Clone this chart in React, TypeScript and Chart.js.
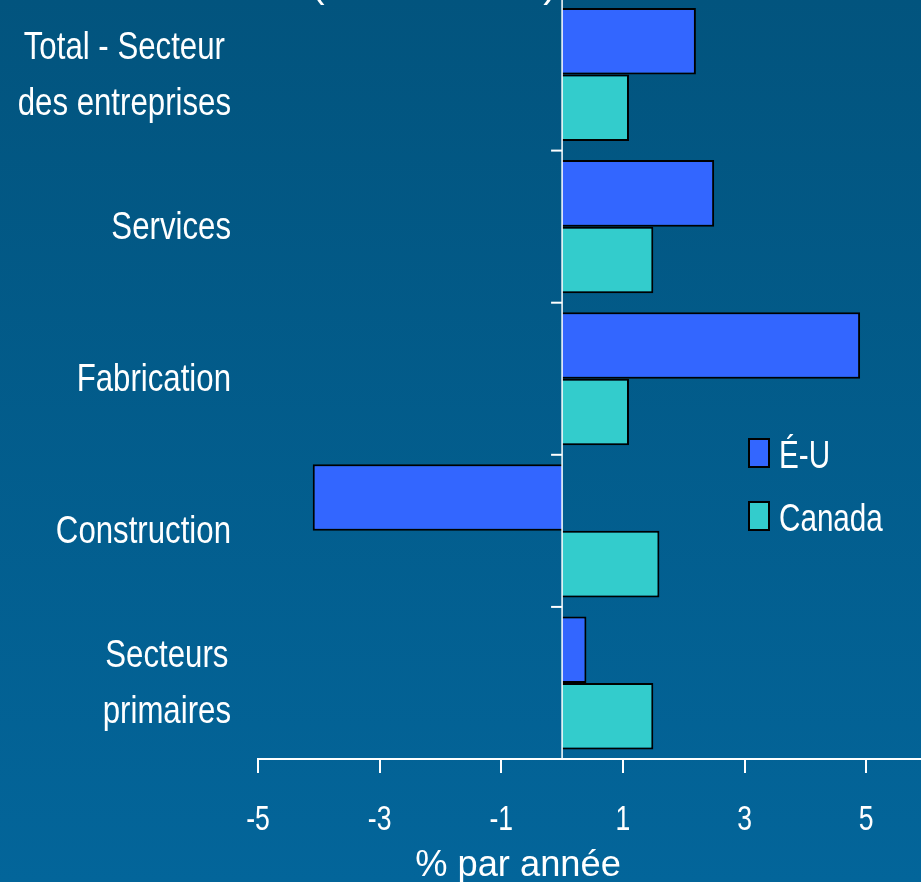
import React, { useEffect, useRef } from "react";
import { Chart, registerables } from "chart.js";

Chart.register(...registerables);

// ---- Data ----
const categories: (string | string[])[] = [
  ["Total - Secteur", "des entreprises"],
  "Services",
  "Fabrication",
  "Construction",
  ["Secteurs", "primaires"],
];
const seriesNames = ["É-U", "Canada"];
const usValues = [2.2, 2.5, 4.9, -4.1, 0.4];
const canadaValues = [1.1, 1.5, 1.1, 1.6, 1.5];
const xTickValues = [-5, -3, -1, 1, 3, 5];
const xMin = -5;
const xMax = 6;
const xAxisTitle = "% par année";
const titleFragments = ["(", ")"];

const US_COLOR = "#3366ff";
const CA_COLOR = "#33cccc";
const FONT = "'Liberation Sans', Arial, sans-serif";

const CANVAS_W = 927;
const CANVAS_H = 886;
const CANVAS_TOP = -4;

function drawScaled(
  ctx: CanvasRenderingContext2D,
  text: string,
  x: number,
  y: number,
  size: number,
  sx: number,
  align: CanvasTextAlign
) {
  ctx.save();
  ctx.translate(x, y);
  ctx.scale(sx, 1);
  ctx.font = `${size}px ${FONT}`;
  ctx.textAlign = align;
  ctx.textBaseline = "alphabetic";
  ctx.fillText(text, 0, 0);
  ctx.restore();
}

function measureScaled(ctx: CanvasRenderingContext2D, text: string, size: number, sx: number) {
  ctx.save();
  ctx.font = `${size}px ${FONT}`;
  const w = ctx.measureText(text).width * sx;
  ctx.restore();
  return w;
}

const overlayPlugin = {
  id: "overlay",
  afterDatasetsDraw(chart: any) {
    const ctx = chart.ctx as CanvasRenderingContext2D;
    const xs = chart.scales.x;
    const ys = chart.scales.y;
    const area = chart.chartArea;
    const x0 = xs.getPixelForValue(0);
    ctx.save();
    // zero line
    ctx.strokeStyle = "#ffffff";
    ctx.lineWidth = 1.5;
    ctx.beginPath();
    ctx.moveTo(x0, area.top);
    ctx.lineTo(x0, area.bottom);
    ctx.stroke();
    // category boundary ticks
    ctx.lineWidth = 2;
    for (let i = 1; i < categories.length; i++) {
      const y = (ys.getPixelForValue(i - 1) + ys.getPixelForValue(i)) / 2;
      ctx.beginPath();
      ctx.moveTo(x0 - 11, y);
      ctx.lineTo(x0, y);
      ctx.stroke();
    }
    ctx.fillStyle = "#ffffff";

    // category labels (narrow look)
    const LSIZE = 39;
    const LSX = 0.8;
    const rightEdge = 231;
    categories.forEach((cat, i) => {
      const cy = ys.getPixelForValue(i);
      const lines = Array.isArray(cat) ? cat : [cat];
      if (lines.length === 1) {
        drawScaled(ctx, lines[0], rightEdge, cy + 12.5, LSIZE, LSX, "right");
      } else {
        const widths = lines.map((l) => measureScaled(ctx, l, LSIZE, LSX));
        const bw = Math.max(...widths);
        const cx = rightEdge - bw / 2;
        const spacing = 56;
        lines.forEach((l, k) => {
          const off = (k - (lines.length - 1) / 2) * spacing;
          drawScaled(ctx, l, cx, cy + off + 12.5, LSIZE, LSX, "center");
        });
      }
    });

    // x tick labels
    xTickValues.forEach((v) => {
      drawScaled(ctx, String(v), xs.getPixelForValue(v), area.bottom + 71, 35, 0.76, "center");
    });

    // x axis title
    drawScaled(ctx, xAxisTitle, 518, area.bottom + 117, 37, 0.98, "center");

    // legend
    const boxX = 749;
    const boxYs = [439 - CANVAS_TOP, 502 - CANVAS_TOP];
    chart.data.datasets.forEach((ds: any, i: number) => {
      const by = boxYs[i];
      ctx.fillStyle = ds.backgroundColor;
      ctx.fillRect(boxX, by, 20, 28);
      ctx.strokeStyle = "#000000";
      ctx.lineWidth = 2;
      ctx.strokeRect(boxX, by, 20, 28);
      ctx.fillStyle = "#ffffff";
      drawScaled(ctx, ds.label, 779, by + 29, 38, 0.78, "left");
    });

    // cut-off title fragments
    ctx.fillStyle = "#ffffff";
    ctx.font = `40px ${FONT}`;
    ctx.textAlign = "center";
    ctx.textBaseline = "alphabetic";
    ctx.fillText(titleFragments[0], 318, -3 - CANVAS_TOP);
    ctx.fillText(titleFragments[1], 550, -3 - CANVAS_TOP);
    ctx.restore();
  },
};

export default function App() {
  const canvasRef = useRef<HTMLCanvasElement | null>(null);

  useEffect(() => {
    const canvas = canvasRef.current;
    if (!canvas) return;
    const chart = new Chart(canvas, {
      type: "bar",
      data: {
        labels: categories as any,
        datasets: [
          {
            label: seriesNames[0],
            data: usValues,
            backgroundColor: US_COLOR,
            borderColor: "#000000",
            borderWidth: 2,
            categoryPercentage: 0.875,
            barPercentage: 1,
          },
          {
            label: seriesNames[1],
            data: canadaValues,
            backgroundColor: CA_COLOR,
            borderColor: "#000000",
            borderWidth: 2,
            categoryPercentage: 0.875,
            barPercentage: 1,
          },
        ],
      },
      options: {
        indexAxis: "y",
        responsive: false,
        animation: false,
        devicePixelRatio: 1,
        layout: { padding: { top: 2.5, left: 0, right: 0, bottom: 0 } },
        plugins: {
          legend: { display: false },
          tooltip: { enabled: false },
          title: { display: false },
        },
        scales: {
          x: {
            type: "linear",
            position: "bottom",
            min: xMin,
            max: xMax,
            afterBuildTicks: (scale: any) => {
              scale.ticks = xTickValues.map((v) => ({ value: v }));
            },
            afterFit: (scale: any) => {
              scale.height = CANVAS_H - (759 - CANVAS_TOP);
              scale.paddingLeft = 0;
              scale.paddingRight = 0;
            },
            grid: {
              drawOnChartArea: false,
              drawTicks: true,
              tickLength: 14,
              color: "#ffffff",
              lineWidth: 2,
            },
            border: { display: true, color: "#ffffff", width: 2 },
            ticks: { display: false, autoSkip: false },
            title: { display: false },
          },
          y: {
            type: "category",
            position: "left",
            afterFit: (scale: any) => {
              scale.width = 258;
              scale.paddingTop = 0;
              scale.paddingBottom = 0;
            },
            grid: { display: false },
            border: { display: false },
            ticks: { display: false, autoSkip: false },
          },
        },
      },
      plugins: [overlayPlugin],
    });
    return () => chart.destroy();
  }, []);

  return (
    <div
      style={{
        position: "fixed",
        left: 0,
        top: 0,
        width: 921,
        height: 882,
        overflow: "hidden",
        background: "linear-gradient(to bottom, #02547e 0%, #03659a 100%)",
      }}
    >
      <canvas
        ref={canvasRef}
        width={CANVAS_W}
        height={CANVAS_H}
        style={{
          position: "absolute",
          left: 0,
          top: CANVAS_TOP,
          width: CANVAS_W,
          height: CANVAS_H,
        }}
      />
    </div>
  );
}
